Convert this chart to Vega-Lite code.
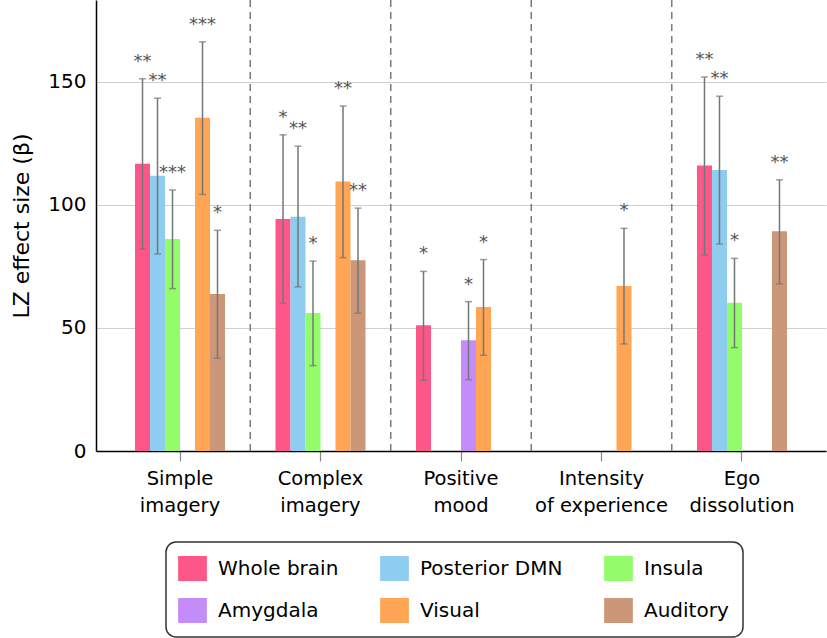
{
  "$schema": "https://vega.github.io/schema/vega-lite/v6.json",
  "width": 730,
  "height": 451,
  "autosize": {"type": "none"},
  "padding": {"left": 96, "top": 0, "right": 1, "bottom": 187},
  "config": {"font": "DejaVu Sans", "view": {"stroke": null}, "scale": {"offsetBandPaddingOuter": 0, "offsetBandPaddingInner": 0}},
  "datasets": {
    "bars": [
      {"cat": "Simple imagery", "region": "Whole brain", "beta": 116.7, "lo": 82, "hi": 151.3, "sig": "**"},
      {"cat": "Simple imagery", "region": "Posterior DMN", "beta": 111.9, "lo": 80.1, "hi": 143.4, "sig": "**"},
      {"cat": "Simple imagery", "region": "Insula", "beta": 86.2, "lo": 66, "hi": 106.1, "sig": "***"},
      {"cat": "Simple imagery", "region": "Visual", "beta": 135.4, "lo": 104.3, "hi": 166.3, "sig": "***"},
      {"cat": "Simple imagery", "region": "Auditory", "beta": 63.8, "lo": 37.7, "hi": 89.7, "sig": "*"},
      {"cat": "Complex imagery", "region": "Whole brain", "beta": 94.3, "lo": 60, "hi": 128.5, "sig": "*"},
      {"cat": "Complex imagery", "region": "Posterior DMN", "beta": 95.2, "lo": 66.7, "hi": 123.9, "sig": "**"},
      {"cat": "Complex imagery", "region": "Insula", "beta": 56.1, "lo": 34.7, "hi": 77.2, "sig": "*"},
      {"cat": "Complex imagery", "region": "Visual", "beta": 109.5, "lo": 78.6, "hi": 140.2, "sig": "**"},
      {"cat": "Complex imagery", "region": "Auditory", "beta": 77.5, "lo": 56, "hi": 98.7, "sig": "**"},
      {"cat": "Positive mood", "region": "Whole brain", "beta": 51.1, "lo": 28.7, "hi": 73, "sig": "*"},
      {"cat": "Positive mood", "region": "Amygdala", "beta": 45, "lo": 29, "hi": 60.7, "sig": "*"},
      {"cat": "Positive mood", "region": "Visual", "beta": 58.5, "lo": 38.9, "hi": 77.8, "sig": "*"},
      {"cat": "Intensity of experience", "region": "Visual", "beta": 67.1, "lo": 43.5, "hi": 90.5, "sig": "*"},
      {"cat": "Ego dissolution", "region": "Whole brain", "beta": 116, "lo": 79.7, "hi": 152, "sig": "**"},
      {"cat": "Ego dissolution", "region": "Posterior DMN", "beta": 114.2, "lo": 84.1, "hi": 144.2, "sig": "**"},
      {"cat": "Ego dissolution", "region": "Insula", "beta": 60.3, "lo": 42, "hi": 78.3, "sig": "*"},
      {"cat": "Ego dissolution", "region": "Auditory", "beta": 89.3, "lo": 67.9, "hi": 110.2, "sig": "**"}
    ],
    "seps": [
      {"cat": "Simple imagery"},
      {"cat": "Complex imagery"},
      {"cat": "Positive mood"},
      {"cat": "Intensity of experience"}
    ]
  },
  "layer": [
    {
      "data": {"name": "seps"},
      "mark": {"type": "rule", "strokeDash": [7, 5], "color": "#7a7a7a", "strokeWidth": 1.5},
      "encoding": {
        "x": {"field": "cat", "type": "nominal", "bandPosition": 1.2806, "title": null,
          "scale": {"domain": ["Simple imagery", "Complex imagery", "Positive mood", "Intensity of experience", "Ego dissolution"], "paddingInner": 0.3594, "paddingOuter": 0.2777}}
      }
    },
    {
      "data": {"name": "bars"},
      "mark": {"type": "bar"},
      "encoding": {
        "x": {"field": "cat", "type": "nominal", "title": null,
          "scale": {"domain": ["Simple imagery", "Complex imagery", "Positive mood", "Intensity of experience", "Ego dissolution"], "paddingInner": 0.3594, "paddingOuter": 0.2777},
          "axis": {"domainColor": "black", "domainWidth": 1.5, "tickColor": "#888", "tickSize": 10, "tickWidth": 1.2,
            "labelFontSize": 19.5, "labelPadding": 8, "labelAngle": 0, "labelAlign": "center", "labelLineHeight": 27, "labelColor": "black", "labelBaseline": "top",
            "labelExpr": "datum.value == 'Intensity of experience' ? ['Intensity', 'of experience'] : split(datum.value, ' ')"}},
        "xOffset": {"field": "region", "type": "nominal",
          "scale": {"domain": ["Whole brain", "Posterior DMN", "Insula", "Amygdala", "Visual", "Auditory"], "paddingOuter": 0, "paddingInner": 0}},
        "y": {"field": "beta", "type": "quantitative", "title": "LZ effect size (β)",
          "scale": {"domain": [0, 183.3], "nice": false, "zero": true},
          "axis": {"values": [0, 50, 100, 150], "domainColor": "black", "domainWidth": 1.5, "ticks": false,
            "labelFontSize": 20, "labelPadding": 10, "labelColor": "black", "grid": true, "gridColor": "#cfcfcf", "gridWidth": 1.2,
            "titleFontSize": 22, "titleFontWeight": "normal", "titleColor": "black", "titlePadding": 14}},
        "color": {"field": "region", "type": "nominal",
          "scale": {"domain": ["Whole brain", "Posterior DMN", "Insula", "Amygdala", "Visual", "Auditory"],
            "range": ["#fe5689", "#8ecdef", "#94fb6a", "#c48cf8", "#ffa553", "#cc9679"]},
          "legend": {"orient": "none", "legendX": 70, "legendY": 542, "direction": "horizontal", "columns": 3, "title": null,
            "symbolType": "M-1.15,-1H1.15V1H-1.15Z", "symbolSize": 625, "symbolStrokeWidth": 0, "symbolOpacity": 1,
            "labelFontSize": 20, "labelColor": "black", "labelOffset": 13, "labelLimit": 300,
            "columnPadding": 41, "rowPadding": 17, "padding": 14,
            "fillColor": "white", "strokeColor": "#333", "cornerRadius": 10,
            "encode": {"legend": {"update": {"strokeWidth": {"value": 1.5}}}}}}
      }
    },
    {
      "data": {"name": "bars"},
      "mark": {"type": "rule", "color": "#717878", "strokeWidth": 1.5},
      "encoding": {
        "x": {"field": "cat", "type": "nominal", "title": null},
        "xOffset": {"field": "region", "type": "nominal"},
        "y": {"field": "lo", "type": "quantitative", "title": "LZ effect size (β)"},
        "y2": {"field": "hi"}
      }
    },
    {
      "data": {"name": "bars"},
      "mark": {"type": "tick", "orient": "horizontal", "color": "#717878", "size": 7, "thickness": 1.5},
      "encoding": {
        "x": {"field": "cat", "type": "nominal", "title": null},
        "xOffset": {"field": "region", "type": "nominal"},
        "y": {"field": "lo", "type": "quantitative", "title": "LZ effect size (β)"}
      }
    },
    {
      "data": {"name": "bars"},
      "mark": {"type": "tick", "orient": "horizontal", "color": "#717878", "size": 7, "thickness": 1.5},
      "encoding": {
        "x": {"field": "cat", "type": "nominal", "title": null},
        "xOffset": {"field": "region", "type": "nominal"},
        "y": {"field": "hi", "type": "quantitative", "title": "LZ effect size (β)"}
      }
    },
    {
      "data": {"name": "bars"},
      "mark": {"type": "text", "color": "#555", "fontSize": 18, "baseline": "alphabetic", "dy": -12},
      "encoding": {
        "x": {"field": "cat", "type": "nominal", "title": null},
        "xOffset": {"field": "region", "type": "nominal"},
        "y": {"field": "hi", "type": "quantitative", "title": "LZ effect size (β)"},
        "text": {"field": "sig"}
      }
    }
  ]
}
